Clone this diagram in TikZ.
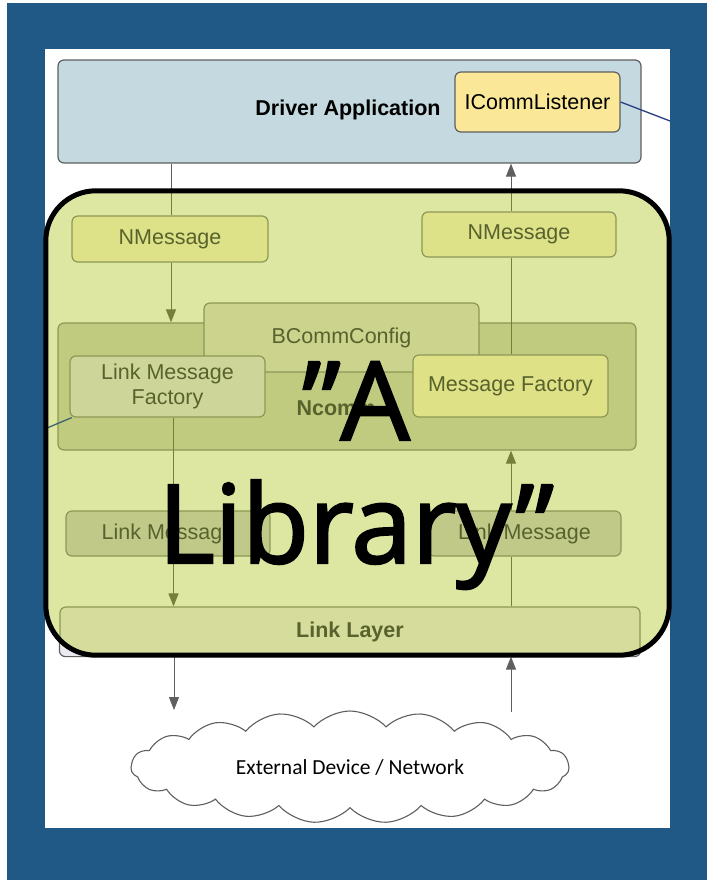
\documentclass[tikz,border=0pt]{standalone}
\usepackage{fontspec}
\setmainfont{Liberation Sans}
\newfontfamily\bigfont{Open Sans}[FakeBold=2.2]
\newfontfamily\cloudfont{Carlito}
\usetikzlibrary{arrows.meta,shapes.symbols}
\definecolor{bluebg}{RGB}{33,89,134}
\definecolor{dafill}{RGB}{196,217,224}
\definecolor{icfill}{RGB}{250,232,152}
\definecolor{graybd}{RGB}{95,95,95}
\definecolor{ovfillc}{RGB}{221,231,161}
\definecolor{olivebd}{RGB}{140,152,85}
\definecolor{olivetx}{RGB}{88,98,45}
\definecolor{oliveln}{RGB}{118,126,58}
\definecolor{nmfill}{RGB}{221,226,136}
\definecolor{ncfill}{RGB}{192,203,128}
\definecolor{bcfill}{RGB}{204,211,140}
\definecolor{lmffill}{RGB}{206,213,152}
\definecolor{mffill}{RGB}{223,225,135}
\definecolor{lmfill}{RGB}{193,201,137}
\definecolor{llfill}{RGB}{214,221,156}
\definecolor{llgray}{RGB}{234,234,241}
\definecolor{icline}{RGB}{40,62,128}
\definecolor{tealln}{RGB}{62,100,112}
\pgfdeclarelayer{under}
\pgfdeclarelayer{ovfill}
\pgfdeclarelayer{top}
\pgfsetlayers{under,ovfill,main,top}
\begin{document}
\begin{tikzpicture}[x=1pt,y=-1pt,
  box/.style={draw, rounded corners=6pt, line width=1.2pt, inner sep=0pt, align=center,
    font=\fontsize{21.5}{24}\selectfont},
  inbox/.style={box, draw=olivebd, text=olivetx},
  outbox/.style={box, draw=graybd, text=black},
  tip/.style={-{Triangle[length=13pt,width=10pt]}},
  gline/.style={draw=graybd, line width=1pt},
  oline/.style={draw=oliveln, line width=1pt},
]
\useasboundingbox (0,0) rectangle (707,880);

\begin{pgfonlayer}{under}
  \fill[white] (0,0) rectangle (707,880);
  \fill[bluebg] (7,3) rectangle (707,880);
  \fill[white] (45,49) rectangle (670,828);
  \node[outbox, fill=dafill, minimum width=583pt, minimum height=103pt] (DA) at (349.5,111.5) {};
  \node[font=\fontsize{21.5}{24}\selectfont\bfseries, inner sep=0pt] (DAt) at (348,110) {Driver Application};
  \node[outbox, fill=icfill, minimum width=165pt, minimum height=60pt] (ICL) at (537.5,102) {ICommListener};
  \coordinate (iclout) at (670,121);
  \draw[icline, line width=1.3pt] (ICL.east) -- (iclout);
  \node[cloud, cloud puffs=19, cloud puff arc=95, cloud ignores aspect, draw=graybd, line width=1.1pt, fill=white,
        minimum width=438pt, minimum height=112pt, inner sep=0pt,
        font=\cloudfont\fontsize{21.5}{24}\selectfont] (ext) at (350,767) {External Device / Network};
\end{pgfonlayer}

\begin{pgfonlayer}{ovfill}
  \node[fill=ovfillc, rounded corners=50pt, minimum width=623pt, minimum height=464pt, inner sep=0pt] (ov) at (357.5,423) {};
\end{pgfonlayer}

\coordinate (xl) at (171,0);
\coordinate (xm) at (173.5,0);
\coordinate (xo) at (174,0);
\coordinate (xr) at (511,0);

% inner boxes
\node[inbox, fill=nmfill, minimum width=196pt, minimum height=46pt] (NML) at (170,239) {NMessage};
\node[inbox, fill=nmfill, minimum width=194pt, minimum height=45pt] (NMR) at (519,234.5) {NMessage};
\node[inbox, fill=ncfill, minimum width=578pt, minimum height=127pt] (NC) at (347,386.5) {};
\node[font=\fontsize{21.5}{24}\selectfont\bfseries, text=olivetx, inner sep=0pt] (NCt) at (336,408) {Ncomm};
\node[inbox, fill=bcfill, minimum width=275pt, minimum height=69pt] (BCC) at (341.5,337.5) {BCommConfig};
\node[inbox, fill=lmffill, minimum width=195pt, minimum height=61pt, font=\fontsize{21.5}{24.5}\selectfont] (LMF) at (167.5,386.5) {Link Message\\Factory};
\node[inbox, fill=mffill, minimum width=195pt, minimum height=62pt] (MF) at (510.5,386) {Message Factory};
\node[inbox, fill=lmfill, minimum width=204pt, minimum height=45pt] (LML) at (168,533.5) {Link Message};
\node[inbox, fill=lmfill, minimum width=193pt, minimum height=45pt] (LMR) at (524.5,533.5) {Link Message};
\begin{scope}
  \clip[rounded corners=50pt] (ov.south west) rectangle (ov.north east);
  \node[inbox, fill=llfill, minimum width=580pt, minimum height=49pt, font=\fontsize{21.5}{24}\selectfont\bfseries] (LL) at (350,631.5) {Link Layer};
\end{scope}

\begin{pgfonlayer}{under}
  \draw[outbox, fill=llgray] (LL.south west) rectangle (LL.north east);
  \draw[gline] (DA.south -| xl) -- (NML.north -| xl);
  \draw[gline, tip, fill=graybd] (NMR.north -| xr) -- (DA.south -| xr);
  \coordinate (dl) at (174,710);
  \coordinate (ur) at (511,712);
  \draw[gline, tip, fill=graybd] (LL.south -| xo) -- (dl);
  \draw[gline, tip, fill=graybd] (ur) -- (LL.south -| xr);
\end{pgfonlayer}

% olive connectors
\begin{scope}
  \clip[rounded corners=50pt] (ov.south west) rectangle (ov.north east);
  \draw[oline] (DA.south -| xl) -- (NML.north -| xl);
  \draw[oline] (NMR.north -| xr) -- (DA.south -| xr);
\end{scope}
\draw[oline, tip, fill=oliveln] (NML.south -| xl) -- (NC.north -| xl);
\draw[oline] (LMF.south -| xm) -- (LML.north -| xm);
\draw[oline, tip, fill=oliveln] (LML.south -| xm) -- (LL.north -| xm);
\draw[oline] (LL.north -| xr) -- (LMR.south -| xr);
\draw[oline, tip, fill=oliveln] (LMR.north -| xr) -- (NC.south -| xr);
\draw[oline] (MF.north -| xr) -- (NMR.south -| xr);
\coordinate (lmfout) at (47,428);
\draw[tealln, line width=1.3pt] (LMF.-162) -- (lmfout);

\begin{pgfonlayer}{top}
  \draw[black, line width=5pt, rounded corners=50pt] (ov.south west) rectangle (ov.north east);
  \node[anchor=base, inner sep=0pt, font=\bigfont\fontsize{109}{123}\selectfont] (libA) at (356,440) {”A};
  \node[anchor=base, inner sep=0pt, font=\bigfont\fontsize{109}{123}\selectfont] (libB) at (356,563) {Library”};
\end{pgfonlayer}
\end{tikzpicture}
\end{document}
